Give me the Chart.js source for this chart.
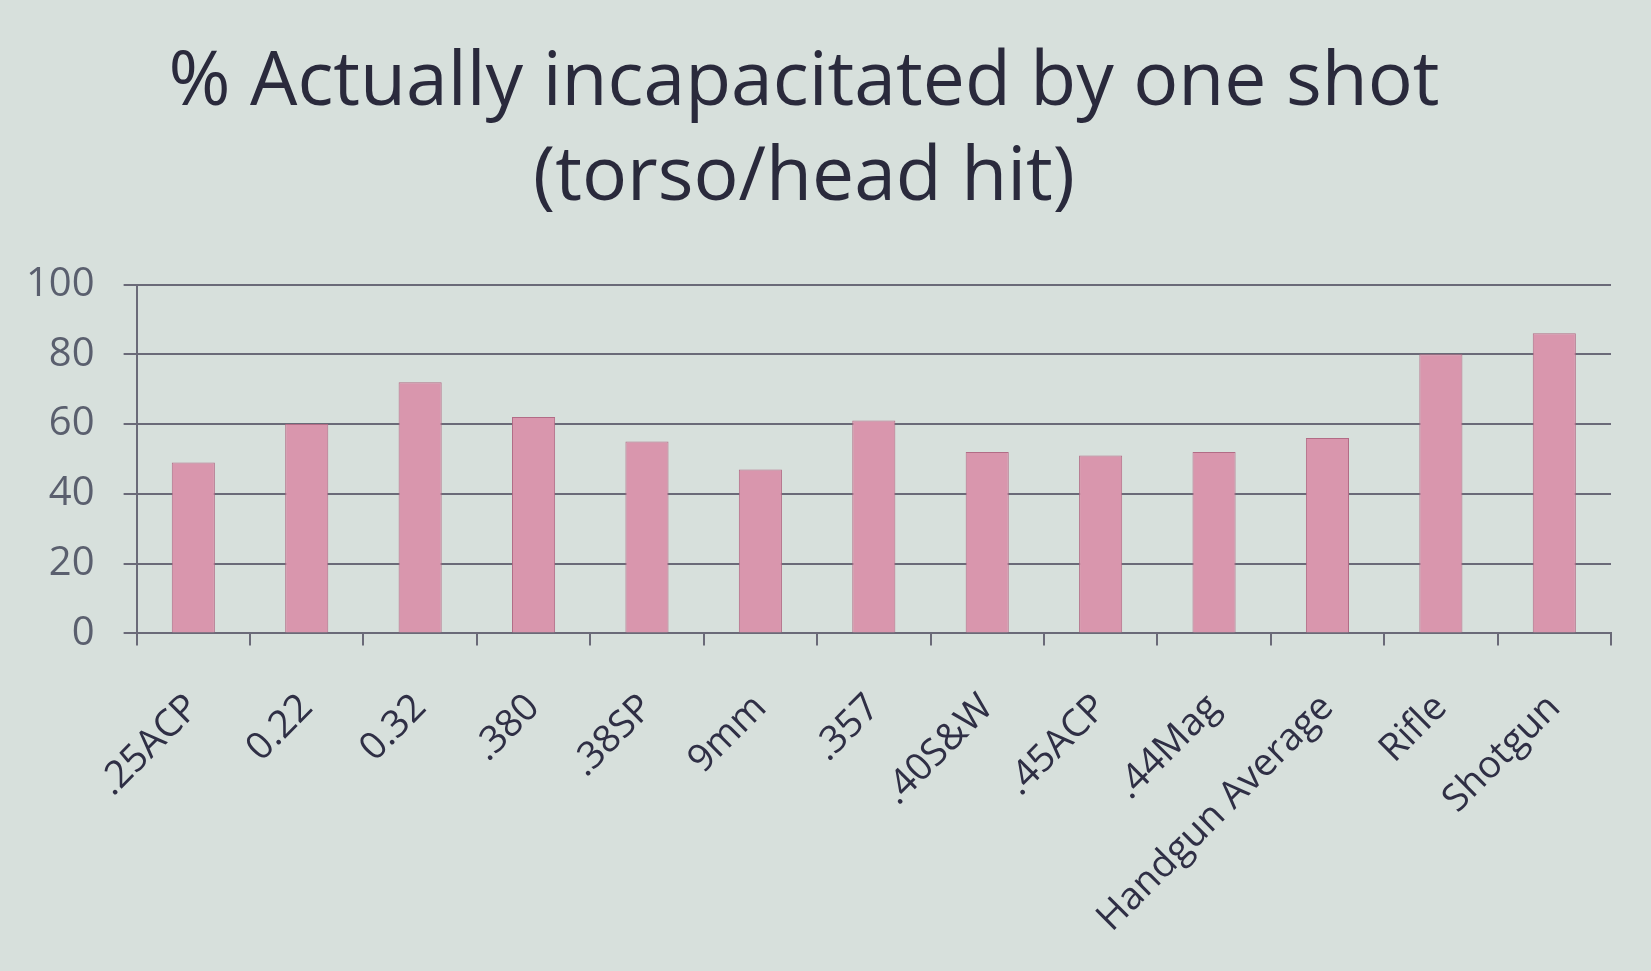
<!DOCTYPE html>
<html>
<head>
<meta charset="utf-8">
<script src="https://cdn.jsdelivr.net/npm/chart.js@4"></script>
<style>
  html, body { margin: 0; padding: 0; background: #d7e0dc; }
  #wrap { width: 1651px; height: 971px; position: relative; }
</style>
</head>
<body>
<div id="wrap"><canvas id="shot-chart"></canvas></div>
<script>
const calibers = [".25ACP", "0.22", "0.32", ".380", ".38SP", "9mm", ".357", ".40S&W", ".45ACP", ".44Mag", "Handgun Average", "Rifle", "Shotgun"];
const pct_incapacitated = [49, 60, 72, 62, 55, 47, 61, 52, 51, 52, 56, 80, 86];
const title_lines = ["% Actually incapacitated by one shot", "(torso/head hit)"];

const data_shots = {
  labels: calibers,
  datasets: [
    {
      label: "% incapacitated",
      data: pct_incapacitated,
      backgroundColor: "rgb(217, 150, 173)",
      borderColor: "rgb(178, 108, 134)",
      borderWidth: 1,
      categoryPercentage: 1,
      barPercentage: 0.38,
    },
  ],
};

const config_shots = {
  type: "bar",
  data: data_shots,
  options: {
    responsive: true,
    maintainAspectRatio: false,
    animation: false,
    // rotated x labels and their padding push the plot right, so pull it back
    layout: { padding: { left: -3, right: 40, top: 0, bottom: -10 } },
    plugins: {
      legend: { display: false },
      tooltip: { enabled: false },
      title: {
        display: true,
        text: title_lines,
        color: "#2a2a3c",
        font: { family: "'Open Sans'", size: 75, weight: "normal", lineHeight: 1.27 },
        padding: { top: 36, bottom: 58 },
      },
    },
    scales: {
      x: {
        grid: {
          drawOnChartArea: false,
          drawTicks: true,
          tickLength: 12,
          color: "#6a6a78",
          lineWidth: 2,
        },
        border: { display: true, color: "#6a6a78", width: 2 },
        ticks: {
          color: "#2f2f45",
          font: { family: "'Open Sans'", size: 38 },
          minRotation: 45,
          maxRotation: 45,
          padding: 40,
        },
      },
      y: {
        min: 0,
        max: 100,
        grid: {
          color: "#6a6a78",
          lineWidth: 2,
          tickLength: 13,
        },
        border: { display: true, color: "#6a6a78", width: 2 },
        ticks: {
          stepSize: 20,
          color: "#5a5f6e",
          font: { family: "'Open Sans'", size: 40 },
          padding: 29,
        },
      },
    },
  },
};

var ctx_shots = document.getElementById("shot-chart").getContext("2d");
var shotChart = new Chart(ctx_shots, config_shots);
</script>
</body>
</html>
